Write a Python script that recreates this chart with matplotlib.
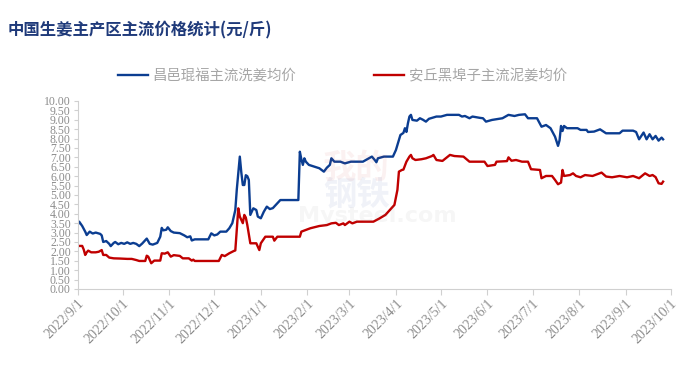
import matplotlib
matplotlib.use("Agg")
import matplotlib.pyplot as plt
import numpy as np
import pandas as pd

# 昌邑琨福主流洗姜均价 (元/斤)
blue_dates = [
    "2022-09-01", "2022-09-02", "2022-09-04", "2022-09-06", "2022-09-07",
    "2022-09-09", "2022-09-11", "2022-09-13", "2022-09-15", "2022-09-16",
    "2022-09-17", "2022-09-18", "2022-09-20", "2022-09-22", "2022-09-23",
    "2022-09-25", "2022-09-26", "2022-09-28", "2022-09-30", "2022-10-02",
    "2022-10-04", "2022-10-06", "2022-10-08", "2022-10-10", "2022-10-12",
    "2022-10-14", "2022-10-17", "2022-10-19", "2022-10-21", "2022-10-24",
    "2022-10-26", "2022-10-27", "2022-10-28", "2022-10-30", "2022-10-31",
    "2022-11-02", "2022-11-04", "2022-11-08", "2022-11-11", "2022-11-13",
    "2022-11-15", "2022-11-16", "2022-11-18", "2022-11-27", "2022-11-29",
    "2022-12-01", "2022-12-03", "2022-12-05", "2022-12-09", "2022-12-11",
    "2022-12-13", "2022-12-15", "2022-12-16", "2022-12-18", "2022-12-19",
    "2022-12-20", "2022-12-21", "2022-12-22", "2022-12-23", "2022-12-24",
    "2022-12-25", "2022-12-27", "2022-12-29", "2022-12-30", "2023-01-01",
    "2023-01-03", "2023-01-05", "2023-01-07", "2023-01-09", "2023-01-11",
    "2023-01-14", "2023-01-26", "2023-01-27", "2023-01-28", "2023-01-29",
    "2023-01-30", "2023-01-31", "2023-02-02", "2023-02-06", "2023-02-09",
    "2023-02-12", "2023-02-14", "2023-02-16", "2023-02-17", "2023-02-19",
    "2023-02-23", "2023-02-26", "2023-03-02", "2023-03-10", "2023-03-16",
    "2023-03-18", "2023-03-19", "2023-03-20", "2023-03-24", "2023-03-30",
    "2023-04-01", "2023-04-04", "2023-04-06", "2023-04-07", "2023-04-08",
    "2023-04-09", "2023-04-10", "2023-04-11", "2023-04-12", "2023-04-15",
    "2023-04-17", "2023-04-19", "2023-04-21", "2023-04-23", "2023-04-28",
    "2023-05-01", "2023-05-05", "2023-05-13", "2023-05-15", "2023-05-17",
    "2023-05-20", "2023-05-22", "2023-05-27", "2023-05-29", "2023-05-31",
    "2023-06-04", "2023-06-11", "2023-06-15", "2023-06-19", "2023-06-22",
    "2023-06-26", "2023-06-28", "2023-07-04", "2023-07-07", "2023-07-10",
    "2023-07-13", "2023-07-16", "2023-07-18", "2023-07-19", "2023-07-20",
    "2023-07-21", "2023-07-22", "2023-07-24", "2023-07-31", "2023-08-02",
    "2023-08-06", "2023-08-07", "2023-08-11", "2023-08-15", "2023-08-19",
    "2023-08-28", "2023-08-30", "2023-09-06", "2023-09-08", "2023-09-10",
    "2023-09-13", "2023-09-15", "2023-09-17", "2023-09-19", "2023-09-21",
    "2023-09-23", "2023-09-25", "2023-09-26",
]
blue_values = [
    3.40, 3.58, 3.35, 3.05, 2.87, 3.05, 2.95, 3.00, 2.95, 2.93,
    2.85, 2.50, 2.55, 2.40, 2.28, 2.45, 2.50, 2.38, 2.45, 2.40,
    2.48, 2.40, 2.45, 2.40, 2.28, 2.42, 2.68, 2.40, 2.36, 2.45,
    2.78, 3.25, 3.12, 3.15, 3.28, 3.08, 3.00, 2.97, 2.85, 2.75,
    2.80, 2.58, 2.64, 2.64, 2.96, 2.85, 2.90, 3.05, 3.05, 3.23,
    3.50, 4.20, 5.30, 7.04, 6.20, 5.53, 5.53, 6.05, 6.00, 5.80,
    3.94, 4.29, 4.20, 3.85, 3.76, 4.11, 4.38, 4.25, 4.30, 4.47,
    4.73, 4.73, 7.30, 6.90, 6.60, 6.95, 6.77, 6.60, 6.50, 6.42,
    6.24, 6.45, 6.60, 6.95, 6.77, 6.77, 6.68, 6.77, 6.77, 7.04,
    6.85, 6.74, 6.95, 7.04, 7.04, 7.39, 8.19, 8.30, 8.55, 8.35,
    8.81, 9.17, 9.26, 8.99, 8.95, 9.08, 9.00, 8.90, 9.05, 9.17,
    9.17, 9.26, 9.26, 9.17, 9.20, 9.08, 9.17, 9.10, 9.08, 8.90,
    8.99, 9.08, 9.26, 9.20, 9.26, 9.29, 9.08, 9.08, 8.63, 8.72,
    8.55, 8.10, 7.61, 7.90, 8.67, 8.40, 8.67, 8.55, 8.55, 8.46,
    8.46, 8.35, 8.37, 8.49, 8.28, 8.28, 8.42, 8.42, 8.35, 7.96,
    8.32, 7.96, 8.23, 7.96, 8.14, 7.89, 8.05, 7.96,
]

# 安丘黑埠子主流泥姜均价 (元/斤)
red_dates = [
    "2022-09-01", "2022-09-04", "2022-09-05", "2022-09-06", "2022-09-07",
    "2022-09-08", "2022-09-10", "2022-09-13", "2022-09-15", "2022-09-17",
    "2022-09-18", "2022-09-20", "2022-09-22", "2022-09-25", "2022-09-29",
    "2022-10-04", "2022-10-07", "2022-10-10", "2022-10-12", "2022-10-16",
    "2022-10-17", "2022-10-18", "2022-10-20", "2022-10-22", "2022-10-26",
    "2022-10-27", "2022-10-29", "2022-10-31", "2022-11-02", "2022-11-04",
    "2022-11-08", "2022-11-10", "2022-11-14", "2022-11-16", "2022-11-17",
    "2022-11-18", "2022-12-04", "2022-12-06", "2022-12-08", "2022-12-11",
    "2022-12-14", "2022-12-15", "2022-12-16", "2022-12-17", "2022-12-18",
    "2022-12-20", "2022-12-21", "2022-12-22", "2022-12-23", "2022-12-24",
    "2022-12-25", "2022-12-29", "2022-12-31", "2023-01-01", "2023-01-04",
    "2023-01-09", "2023-01-10", "2023-01-12", "2023-01-27", "2023-01-28",
    "2023-01-31", "2023-02-03", "2023-02-09", "2023-02-14", "2023-02-17",
    "2023-02-20", "2023-02-22", "2023-02-25", "2023-02-26", "2023-03-01",
    "2023-03-03", "2023-03-06", "2023-03-17", "2023-03-21", "2023-03-25",
    "2023-03-29", "2023-03-31", "2023-04-02", "2023-04-03", "2023-04-05",
    "2023-04-06", "2023-04-08", "2023-04-10", "2023-04-11", "2023-04-12",
    "2023-04-14", "2023-04-18", "2023-04-21", "2023-04-25", "2023-04-26",
    "2023-04-28", "2023-05-02", "2023-05-05", "2023-05-07", "2023-05-10",
    "2023-05-16", "2023-05-20", "2023-05-30", "2023-06-01", "2023-06-06",
    "2023-06-07", "2023-06-14", "2023-06-15", "2023-06-17", "2023-06-20",
    "2023-06-24", "2023-06-28", "2023-06-30", "2023-07-06", "2023-07-07",
    "2023-07-10", "2023-07-14", "2023-07-16", "2023-07-18", "2023-07-20",
    "2023-07-21", "2023-07-22", "2023-07-26", "2023-07-28", "2023-07-30",
    "2023-08-02", "2023-08-05", "2023-08-10", "2023-08-16", "2023-08-19",
    "2023-08-23", "2023-08-28", "2023-09-02", "2023-09-06", "2023-09-10",
    "2023-09-14", "2023-09-17", "2023-09-19", "2023-09-21", "2023-09-23",
    "2023-09-25", "2023-09-26",
]
red_values = [
    2.29, 2.29, 2.10, 1.81, 1.95, 2.04, 1.95, 1.95, 1.98, 2.07,
    1.81, 1.81, 1.67, 1.63, 1.62, 1.60, 1.60, 1.54, 1.49, 1.49,
    1.77, 1.72, 1.37, 1.51, 1.51, 1.90, 1.88, 1.95, 1.72, 1.80,
    1.76, 1.63, 1.63, 1.51, 1.56, 1.49, 1.49, 1.81, 1.75, 1.90,
    2.02, 2.05, 3.14, 4.29, 3.85, 3.50, 3.94, 3.80, 3.40, 2.90,
    2.43, 2.43, 2.07, 2.43, 2.78, 2.78, 2.57, 2.78, 2.78, 3.05,
    3.14, 3.23, 3.35, 3.40, 3.49, 3.52, 3.40, 3.49, 3.40, 3.58,
    3.49, 3.58, 3.58, 3.75, 3.94, 4.29, 4.47, 5.27, 6.24, 6.33,
    6.35, 6.77, 7.04, 7.13, 6.95, 6.86, 6.90, 6.95, 7.07, 7.13,
    6.86, 6.81, 7.00, 7.13, 7.07, 7.04, 6.77, 6.77, 6.54, 6.60,
    6.77, 6.80, 7.00, 6.82, 6.86, 6.77, 6.77, 6.37, 6.33, 5.89,
    6.01, 6.01, 5.80, 5.57, 5.66, 6.33, 6.01, 6.06, 6.15, 6.01,
    5.94, 6.06, 6.01, 6.19, 5.98, 5.94, 6.01, 5.94, 6.01, 5.89,
    6.15, 6.01, 6.06, 5.95, 5.62, 5.59, 5.71,
]

series_names = ["昌邑琨福主流洗姜均价", "安丘黑埠子主流泥姜均价"]
title = "中国生姜主产区主流价格统计(元/斤)"
tick_dates = pd.date_range("2022-09-01", "2023-10-01", freq="MS")
tick_labels = ["2022/9/1", "2022/10/1", "2022/11/1", "2022/12/1", "2023/1/1",
               "2023/2/1", "2023/3/1", "2023/4/1", "2023/5/1", "2023/6/1",
               "2023/7/1", "2023/8/1", "2023/9/1", "2023/10/1"]

BLUE = "#0b3d91"
RED = "#c00000"
GREY = "#8c8c8c"

plt.rcParams["font.family"] = ["Noto Sans CJK SC", "DejaVu Sans"]

fig = plt.figure(figsize=(7, 3.68), dpi=100)
ax = fig.add_axes([0.111, 0.2147, 0.847, 0.511])

# Faint watermark behind the lines
ax.text(0.47, 0.64, "我的", transform=ax.transAxes, fontsize=24, fontweight="bold",
        color="#d04040", alpha=0.07, ha="center", va="center")
ax.text(0.47, 0.50, "钢铁", transform=ax.transAxes, fontsize=24, fontweight="bold",
        color="#3050a0", alpha=0.07, ha="center", va="center")
ax.text(0.505, 0.39, "Mysteel.com", transform=ax.transAxes, fontsize=16,
        fontweight="bold", family="DejaVu Sans", color="#808080", alpha=0.07,
        ha="center", va="center")

l1, = ax.plot(pd.to_datetime(blue_dates), blue_values, color=BLUE, lw=1.7)
l2, = ax.plot(pd.to_datetime(red_dates), red_values, color=RED, lw=1.7)

ax.set_xlim(pd.Timestamp("2022-09-01"), pd.Timestamp("2023-10-01"))
ax.set_ylim(0, 10)

ax.set_yticks(np.arange(0, 10.01, 0.5))
ax.set_yticklabels(["%.2f" % v for v in np.arange(0, 10.01, 0.5)],
                   family="Liberation Serif", fontsize=8.5, color=GREY)
ax.set_xticks(tick_dates)
ax.set_xticklabels(tick_labels, rotation=45, ha="right", rotation_mode="anchor",
                   family="Liberation Serif", fontsize=10, color=GREY)

# Light frame: only left and bottom lines
for side in ["top", "right"]:
    ax.spines[side].set_visible(False)
for side in ["left", "bottom"]:
    ax.spines[side].set_color("#d0d0d0")
ax.tick_params(axis="both", colors="#d0d0d0", length=4, width=0.8, pad=2)
ax.tick_params(axis="y", length=3)
for lab in ax.get_xticklabels() + ax.get_yticklabels():
    lab.set_color(GREY)

fig.text(0.011, 0.918, title, fontsize=11.8, fontweight="bold", color="#1f3a7a",
         ha="left", va="center")

leg = fig.legend([l1, l2], series_names, loc="center", bbox_to_anchor=(0.489, 0.793),
                 ncol=2, frameon=False, fontsize=10.4, handlelength=2.1,
                 handletextpad=0.3, columnspacing=5.4)
for txt in leg.get_texts():
    txt.set_color("#a6a6a6")

fig.savefig("out.png", dpi=100)
